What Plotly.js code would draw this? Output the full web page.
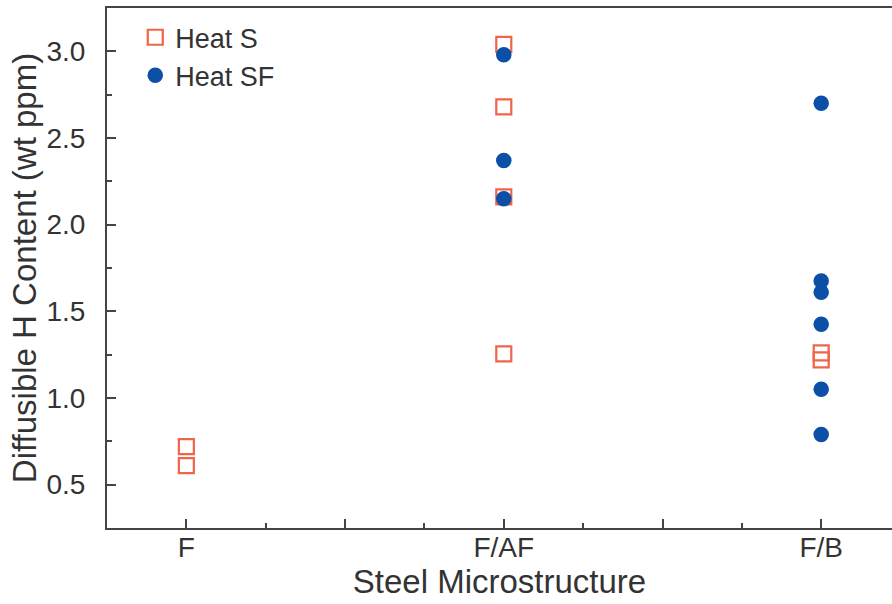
<!DOCTYPE html>
<html>
<head>
<meta charset="utf-8">
<script src="https://cdn.plot.ly/plotly-3.0.1.min.js"></script>
<style>html,body{margin:0;padding:0;background:#fff;overflow:hidden;}#chart{width:892px;height:604px;}</style>
</head>
<body>
<div id="chart"></div>
<script>
// Category positions on the x axis
const categories = ['F', 'F/AF', 'F/B'];
const categoryPos = [1, 2, 3];

// Heat S (open squares)
const heatS_x = ['F', 'F', 'F/AF', 'F/AF', 'F/AF', 'F/AF', 'F/B', 'F/B'];
const heatS_y = [0.72, 0.61, 3.04, 2.68, 2.16, 1.255, 1.26, 1.22];

// Heat SF (filled circles)
const heatSF_x = ['F/AF', 'F/AF', 'F/AF', 'F/B', 'F/B', 'F/B', 'F/B', 'F/B', 'F/B'];
const heatSF_y = [2.98, 2.37, 2.15, 2.70, 1.675, 1.61, 1.425, 1.05, 0.79];

// Tick labels
const xTickVals = [1, 1.5, 2, 2.5, 3];
const xTickText = ['F', '', 'F/AF', '', 'F/B'];
const yTickVals = [0.5, 1.0, 1.5, 2.0, 2.5, 3.0];

const toPos = c => categoryPos[categories.indexOf(c)];

const font = 'Liberation Sans, Arial, Helvetica, sans-serif';
const textColor = '#333';
const axisColor = '#444';

const traces = [
  {
    name: 'Heat S', type: 'scatter', mode: 'markers',
    x: heatS_x.map(toPos), y: heatS_y,
    marker: {symbol: 'square-open', size: 15, color: '#f0654a', line: {width: 2.2, color: '#f0654a'}}
  },
  {
    name: 'Heat SF', type: 'scatter', mode: 'markers',
    x: heatSF_x.map(toPos), y: heatSF_y,
    marker: {symbol: 'circle', size: 15.5, color: '#0b4fa6'}
  }
];

const layout = {
  width: 892, height: 604,
  margin: {l: 107, r: 0, t: 8, b: 76},
  paper_bgcolor: '#fff', plot_bgcolor: '#fff',
  font: {family: font, color: textColor, size: 28},
  showlegend: true,
  legend: {x: 0.036, y: 0.99, xanchor: 'left', yanchor: 'top', font: {size: 27, color: textColor}, bgcolor: 'rgba(0,0,0,0)', itemwidth: 30},
  xaxis: {
    range: [0.75, 3.223], showgrid: false, zeroline: false,
    showline: true, linecolor: axisColor, linewidth: 2, mirror: true,
    ticks: 'inside', ticklen: 9, tickwidth: 2, tickcolor: axisColor,
    tickvals: xTickVals, ticktext: xTickText,
    ticklabelstandoff: -7,
    tickfont: {size: 28, color: textColor},
    minor: {dtick: 0.25, tick0: 0.75, ticks: 'inside', ticklen: 5, tickwidth: 2, tickcolor: axisColor, showgrid: false},
    title: {text: 'Steel Microstructure', font: {size: 33, color: textColor}, standoff: 0}
  },
  yaxis: {
    range: [0.25, 3.25], showgrid: false, zeroline: false,
    showline: true, linecolor: axisColor, linewidth: 2, mirror: false,
    ticks: 'inside', ticklen: 9, tickwidth: 2, tickcolor: axisColor,
    tickvals: yTickVals, tickformat: '.1f',
    ticklabelstandoff: 14,
    tickfont: {size: 28, color: textColor},
    minor: {dtick: 0.25, tick0: 0.25, ticks: 'inside', ticklen: 5, tickwidth: 2, tickcolor: axisColor, showgrid: false},
    title: {text: 'Diffusible H Content (wt ppm)', font: {size: 33, color: textColor}, standoff: 0}
  }
};

Plotly.newPlot('chart', traces, layout, {displayModeBar: false, staticPlot: true});
</script>
</body>
</html>
